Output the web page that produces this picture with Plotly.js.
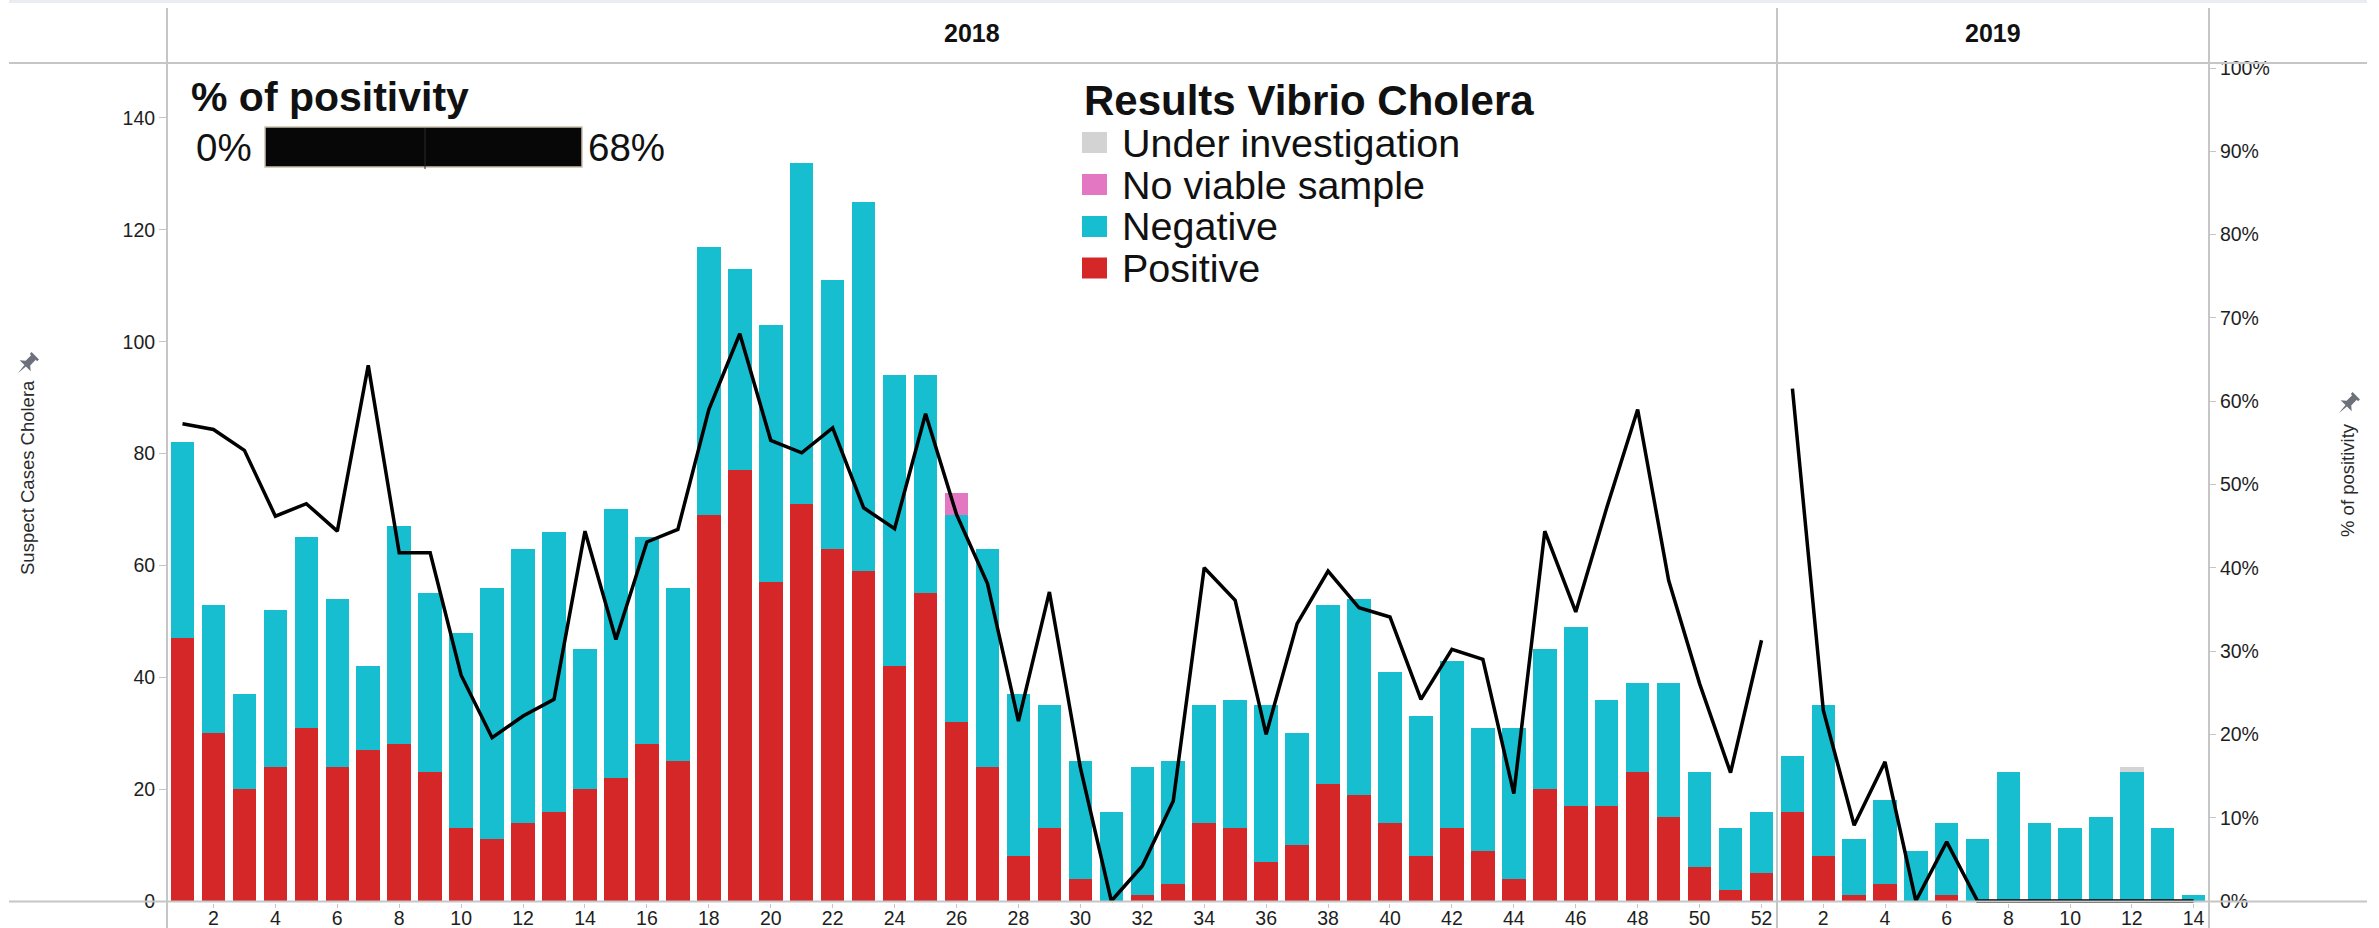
<!DOCTYPE html>
<html>
<head>
<meta charset="utf-8">
<script src="https://cdn.plot.ly/plotly-3.0.1.min.js"></script>
<style>
html,body{margin:0;padding:0;background:#ffffff;}
#chart{width:2379px;height:928px;}
</style>
</head>
<body>
<div id="chart"></div>
<script>
// ---------------- DATA ----------------
const weeks2018 = [1,2,3,4,5,6,7,8,9,10,11,12,13,14,15,16,17,18,19,20,21,22,23,24,25,26,
                   27,28,29,30,31,32,33,34,35,36,37,38,39,40,41,42,43,44,45,46,47,48,49,50,51,52];
const weeks2019 = [1,2,3,4,5,6,7,8,9,10,11,12,13,14];

const positive2018 = [47,30,20,24,31,24,27,28,23,13,11,14,16,20,22,28,25,69,77,57,71,63,59,42,55,32,
                      24,8,13,4,0,1,3,14,13,7,10,21,19,14,8,13,9,4,20,17,17,23,15,6,2,5];
const negative2018 = [35,23,17,28,34,30,15,39,32,35,45,49,50,25,48,37,31,48,36,46,61,48,66,52,39,37,
                      39,29,22,21,16,23,22,21,23,28,20,32,35,27,25,30,22,27,25,32,19,16,24,17,11,11];
const noViable2018 = [0,0,0,0,0,0,0,0,0,0,0,0,0,0,0,0,0,0,0,0,0,0,0,0,0,4,
                      0,0,0,0,0,0,0,0,0,0,0,0,0,0,0,0,0,0,0,0,0,0,0,0,0,0];
const underInv2018 = [0,0,0,0,0,0,0,0,0,0,0,0,0,0,0,0,0,0,0,0,0,0,0,0,0,0,
                      0,0,0,0,0,0,0,0,0,0,0,0,0,0,0,0,0,0,0,0,0,0,0,0,0,0];

const positive2019 = [16,8,1,3,0,1,0,0,0,0,0,0,0,0];
const negative2019 = [10,27,10,15,9,13,11,23,14,13,15,23,13,1];
const noViable2019 = [0,0,0,0,0,0,0,0,0,0,0,0,0,0];
const underInv2019 = [0,0,0,0,0,0,0,0,0,0,0,1,0,0];

const positivity2018 = [0.573,0.566,0.541,0.462,0.477,0.444,0.643,0.418,0.418,0.271,
                        0.196,0.222,0.242,0.444,0.314,0.431,0.446,0.590,0.681,0.553,
                        0.538,0.568,0.472,0.447,0.585,0.464,0.381,0.216,0.371,0.160,
                        0.000,0.042,0.120,0.400,0.361,0.200,0.333,0.396,0.352,0.341,
                        0.242,0.302,0.290,0.129,0.444,0.347,0.472,0.590,0.385,0.261,
                        0.154,0.313];
const positivity2019 = [0.615,0.229,0.091,0.167,0.000,0.071,0.000,0.000,0.000,0.000,0.000,0.000,0.000,0.000];

const xTicks2018 = [2,4,6,8,10,12,14,16,18,20,22,24,26,28,30,32,34,36,38,40,42,44,46,48,50,52];
const xTicks2019 = [2,4,6,8,10,12,14];
const yTicksCases = [0,20,40,60,80,100,120,140];
const yTicksPct = [0,0.1,0.2,0.3,0.4,0.5,0.6,0.7,0.8,0.9,1.0];

const legendLabels = ['Under investigation','No viable sample','Negative','Positive'];
const legendColors = ['#d3d3d3','#e377c2','#17becf','#d62728'];

// ---------------- LAYOUT HELPERS ----------------
const FONT = 'Liberation Sans, Arial, Helvetica, sans-serif';
const L = 167, R = 2209, T = 63, B = 903;
const PX = X => (X - L) / (R - L);
const PY = Y => (B - Y) / (B - T);
const SPLIT = PX(1777);
const ZERO_Y = 901;
const PX_PER_CASE = 5.593;
const PX_PER_PCT_UNIT = 833;

const COL = {pos:'#d62728', neg:'#17becf', nv:'#e377c2', ui:'#d3d3d3'};

function bar(name, x, y, xa, color){
  return {type:'bar', name:name, x:x, y:y, xaxis:xa, yaxis:'y',
          marker:{color:color, line:{width:0}}, showlegend:false,
          hovertemplate:name+': %{y}<extra></extra>'};
}

const traces = [
  bar('Positive', weeks2018, positive2018, 'x', COL.pos),
  bar('Negative', weeks2018, negative2018, 'x', COL.neg),
  bar('No viable sample', weeks2018, noViable2018, 'x', COL.nv),
  bar('Under investigation', weeks2018, underInv2018, 'x', COL.ui),
  bar('Positive', weeks2019, positive2019, 'x2', COL.pos),
  bar('Negative', weeks2019, negative2019, 'x2', COL.neg),
  bar('No viable sample', weeks2019, noViable2019, 'x2', COL.nv),
  bar('Under investigation', weeks2019, underInv2019, 'x2', COL.ui),
  {type:'scatter', mode:'lines', name:'% of positivity', x:weeks2018, y:positivity2018,
   xaxis:'x', yaxis:'y2', line:{color:'#000000', width:3.5}, showlegend:false},
  {type:'scatter', mode:'lines', name:'% of positivity', x:weeks2019, y:positivity2019,
   xaxis:'x2', yaxis:'y2', line:{color:'#000000', width:3.5}, showlegend:false}
];

const tickFont = {family:FONT, size:19.5, color:'#1e1e1e'};
const LINE = '#c6c6c6';

const axisCommon = {showgrid:false, zeroline:false, showline:false, ticks:'outside',
                    tickcolor:LINE, tickwidth:1, tickfont:tickFont, fixedrange:true};

// pushpin icon path (pixel coords, rotated)
function pinPath(scale){
  const body = [[-4,9],[4,9],[4,7],[2.5,7],[2.5,1],[6,-2],[-6,-2],[-2.5,1],[-2.5,7],[-4,7]];
  const needle = [[-0.8,-2],[0.8,-2],[0,-10]];
  const c = Math.cos(-Math.PI/4), s = Math.sin(-Math.PI/4);
  const tr = p => [ (p[0]*c - p[1]*s)*scale, (p[0]*s + p[1]*c)*scale ];
  const toStr = pts => 'M' + pts.map(tr).map(p => p[0].toFixed(2)+','+p[1].toFixed(2)).join('L') + 'Z';
  return toStr(body) + ' ' + toStr(needle);
}

const shapes = [];
// top light band
shapes.push({type:'rect', xref:'paper', yref:'paper', x0:PX(9), x1:PX(2367), y0:PY(0), y1:PY(3),
             fillcolor:'#e9ecf0', line:{width:0}, layer:'below'});
// horizontal header line and base line
[63, 901.5].forEach(Y => shapes.push({type:'line', xref:'paper', yref:'paper',
   x0:PX(9), x1:PX(2367), y0:PY(Y), y1:PY(Y), line:{color:LINE, width:2}, layer:'above'}));
// vertical lines
[167, 1777, 2209].forEach(X => shapes.push({type:'line', xref:'paper', yref:'paper',
   x0:PX(X), x1:PX(X), y0:PY(8), y1:PY(928), line:{color:LINE, width:2}, layer:'above'}));
// colour legend bar for % positivity
shapes.push({type:'rect', xref:'paper', yref:'paper', x0:PX(265), x1:PX(582), y0:PY(167), y1:PY(127),
             fillcolor:'#070707', line:{color:'#c9c0ae', width:1.5}, layer:'above'});
shapes.push({type:'line', xref:'paper', yref:'paper', x0:PX(425), x1:PX(425), y0:PY(169), y1:PY(128),
             line:{color:'#2a2a2a', width:1}, layer:'above'});
// legend swatches
const rowsY = [142.5, 184.5, 226.5, 268];
legendLabels.forEach((lab, i) => {
  shapes.push({type:'rect', xref:'paper', yref:'paper', x0:PX(1082), x1:PX(1107),
               y0:PY(rowsY[i]+10.5), y1:PY(rowsY[i]-10.5), fillcolor:legendColors[i],
               line:{width:0}, layer:'above'});
});
// pins
[[27,364],[2348,404]].forEach(p => shapes.push({type:'path', xref:'paper', yref:'paper',
   xsizemode:'pixel', ysizemode:'pixel', xanchor:PX(p[0]), yanchor:PY(p[1]),
   path:pinPath(1.3), fillcolor:'#6c717b', line:{width:0}, layer:'above'}));

const annotations = [
  {text:'<b>2018</b>', x:PX(972), y:PY(33)},
  {text:'<b>2019</b>', x:PX(1993), y:PY(33)}
].map(a => Object.assign({xref:'paper', yref:'paper', showarrow:false, xanchor:'center', yanchor:'middle',
                          font:{family:FONT, size:25, color:'#111'}}, a));

annotations.push({text:'Suspect Cases Cholera', xref:'paper', yref:'paper', x:PX(27), y:PY(478),
  textangle:-90, showarrow:false, xanchor:'center', yanchor:'middle', font:{family:FONT, size:18.5, color:'#2a2a2a'}});
annotations.push({text:'% of positivity', xref:'paper', yref:'paper', x:PX(2347), y:PY(480),
  textangle:-90, showarrow:false, xanchor:'center', yanchor:'middle', font:{family:FONT, size:18.5, color:'#2a2a2a'}});

// % of positivity colour legend
annotations.push({text:'<b>% of positivity</b>', xref:'paper', yref:'paper', x:PX(189), y:PY(97),
  showarrow:false, xanchor:'left', yanchor:'middle', font:{family:FONT, size:41, color:'#111'}});
annotations.push({text:'0%', xref:'paper', yref:'paper', x:PX(194), y:PY(148),
  showarrow:false, xanchor:'left', yanchor:'middle', font:{family:FONT, size:38.5, color:'#111'}});
annotations.push({text:'68%', xref:'paper', yref:'paper', x:PX(586), y:PY(148),
  showarrow:false, xanchor:'left', yanchor:'middle', font:{family:FONT, size:38.5, color:'#111'}});

// results legend
annotations.push({text:'<b>Results Vibrio Cholera</b>', xref:'paper', yref:'paper', x:PX(1082), y:PY(101),
  showarrow:false, xanchor:'left', yanchor:'middle', font:{family:FONT, size:42, color:'#111'}});
legendLabels.forEach((lab, i) => {
  annotations.push({text:lab, xref:'paper', yref:'paper', x:PX(1120), y:PY(rowsY[i]),
    showarrow:false, xanchor:'left', yanchor:'middle', font:{family:FONT, size:39.5, color:'#111'}});
});

const layout = {
  width:2379, height:928,
  margin:{l:L, r:2379-R, t:T, b:928-B, pad:0},
  paper_bgcolor:'#ffffff', plot_bgcolor:'rgba(0,0,0,0)',
  barmode:'stack', bargap:0.24,
  showlegend:false,
  font:{family:FONT, color:'#1e1e1e'},
  xaxis: Object.assign({}, axisCommon, {domain:[0, SPLIT], range:[0.5, 52.5], anchor:'y',
          tickmode:'array', tickvals:xTicks2018, ticktext:xTicks2018.map(String), ticklen:4,
          ticklabelstandoff:-6}),
  xaxis2: Object.assign({}, axisCommon, {domain:[SPLIT, 1], range:[0.5, 14.5], anchor:'y',
          tickmode:'array', tickvals:xTicks2019, ticktext:xTicks2019.map(String), ticklen:4,
          ticklabelstandoff:-6}),
  yaxis: Object.assign({}, axisCommon, {anchor:'x', side:'left',
          range:[-(B - ZERO_Y)/PX_PER_CASE, (ZERO_Y - T)/PX_PER_CASE],
          tickmode:'array', tickvals:yTicksCases, ticklen:7}),
  yaxis2: Object.assign({}, axisCommon, {anchor:'x2', overlaying:'y', side:'right',
          range:[-(B - ZERO_Y)/PX_PER_PCT_UNIT, (ZERO_Y - T)/PX_PER_PCT_UNIT],
          tickmode:'array', tickvals:yTicksPct, tickformat:'.0%', ticklen:6}),
  shapes:shapes,
  annotations:annotations
};

Plotly.newPlot('chart', traces, layout, {displayModeBar:false, staticPlot:true});
</script>
</body>
</html>
